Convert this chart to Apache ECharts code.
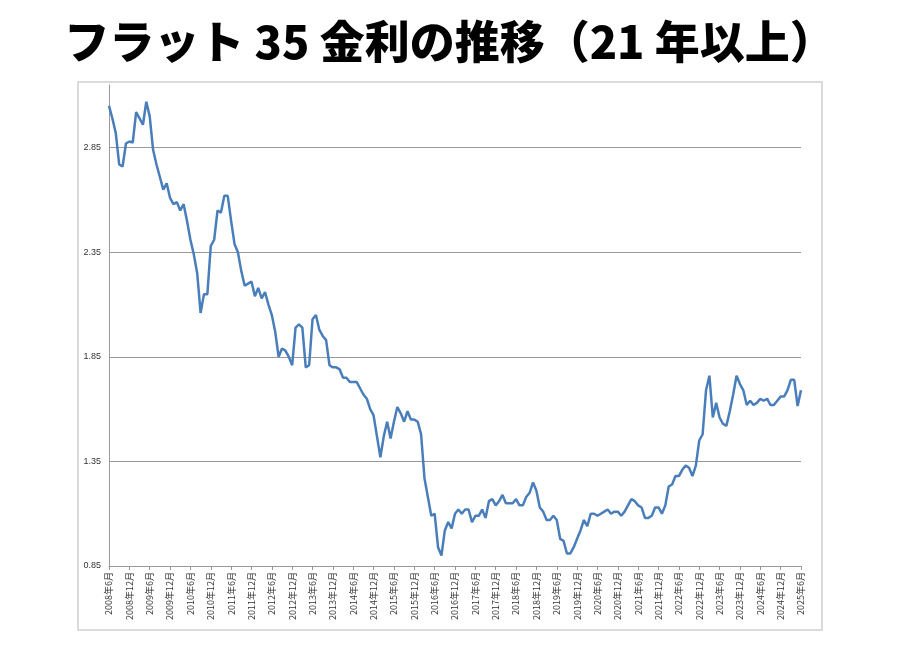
<!DOCTYPE html>
<html><head><meta charset="utf-8">
<script src="https://cdn.jsdelivr.net/npm/echarts@6/dist/echarts.min.js"></script>
<style>html,body{margin:0;padding:0;background:#fff}#c{width:899px;height:650px}</style>
</head><body><div id="c"></div>
<script>
const startYear = 2008, startMonth = 6, monthCount = 205;
const rates = [3.05,2.99,2.92,2.77,2.76,2.87,2.88,2.875,3.02,2.99,2.96,3.07,3.00,2.84,2.77,2.71,2.65,2.68,2.61,2.58,
2.59,2.55,2.58,2.50,2.41,2.34,2.25,2.06,2.15,2.15,2.38,2.41,2.55,2.54,2.62,2.62,2.50,2.39,2.35,2.26,
2.19,2.20,2.21,2.14,2.18,2.13,2.16,2.10,2.05,1.97,1.85,1.89,1.88,1.85,1.81,1.99,2.005,1.99,1.80,1.81,
2.03,2.05,1.98,1.95,1.93,1.81,1.80,1.80,1.79,1.75,1.75,1.73,1.73,1.73,1.70,1.67,1.65,1.60,1.57,1.47,
1.37,1.47,1.54,1.46,1.54,1.61,1.58,1.54,1.59,1.55,1.55,1.54,1.48,1.27,1.18,1.09,1.10,0.94,0.90,1.02,
1.06,1.03,1.10,1.12,1.10,1.12,1.12,1.06,1.09,1.09,1.12,1.08,1.16,1.17,1.14,1.16,1.19,1.15,1.15,1.15,
1.17,1.14,1.14,1.18,1.20,1.25,1.21,1.13,1.11,1.07,1.07,1.09,1.07,0.98,0.97,0.91,0.91,0.94,0.98,1.02,
1.07,1.04,1.10,1.10,1.09,1.10,1.11,1.12,1.10,1.11,1.11,1.09,1.11,1.14,1.17,1.16,1.14,1.13,1.08,1.08,
1.09,1.13,1.13,1.10,1.14,1.23,1.24,1.28,1.28,1.31,1.33,1.32,1.28,1.33,1.45,1.48,1.69,1.76,1.56,1.63,
1.56,1.53,1.52,1.59,1.67,1.76,1.72,1.69,1.62,1.64,1.62,1.63,1.65,1.64,1.65,1.62,1.62,1.64,1.66,1.66,
1.69,1.74,1.74,1.615,1.69];
const yTicks = [0.85,1.35,1.85,2.35,2.85];
const categories = [];
for (let i = 0; i < monthCount; i++) {
  const t = (startMonth - 1) + i;
  categories.push((startYear + Math.floor(t / 12)) + '年' + (t % 12 + 1) + '月');
}
const chart = echarts.init(document.getElementById('c'));
chart.setOption({
  animation: false,
  title: { text: 'フラット 35 金利の推移（21 年以上）', left: 'center', top: 14,
    textStyle: { fontFamily: 'Noto Sans CJK JP', fontWeight: 900, fontSize: 45, color: '#000' } },
  graphic: [{ type: 'rect', shape: { x: 78, y: 82, width: 744, height: 548 },
    style: { fill: 'none', stroke: '#d0d0d0', lineWidth: 1.5 }, z: -1 }],
  grid: { left: 109, right: 98, top: 85, bottom: 84 },
  xAxis: { type: 'category', data: categories, boundaryGap: false,
    axisLine: { lineStyle: { color: '#999' } },
    axisTick: { interval: (i) => i % 6 === 0, lineStyle: { color: '#999' }, length: 4 },
    axisLabel: { interval: (i) => i % 6 === 0, rotate: 90, fontSize: 9, color: '#333',
      fontFamily: 'Noto Sans CJK JP', margin: 6 } },
  yAxis: { type: 'value', min: 0.85, max: 3.15, interval: 0.5,
    axisLine: { show: true, lineStyle: { color: '#999' } },
    axisTick: { show: false },
    axisLabel: { fontSize: 9, color: '#333', showMaxLabel: false,
      formatter: (v) => yTicks.some(t => Math.abs(t - v) < 1e-6) ? v.toFixed(2) : '' },
    splitLine: { showMaxLine: false, showMinLine: false, lineStyle: { color: '#999', width: 1 } } },
  series: [{ type: 'line', data: rates, showSymbol: false, symbol: 'none',
    lineStyle: { color: '#4a7ebb', width: 2.5 } }]
});
</script></body></html>
